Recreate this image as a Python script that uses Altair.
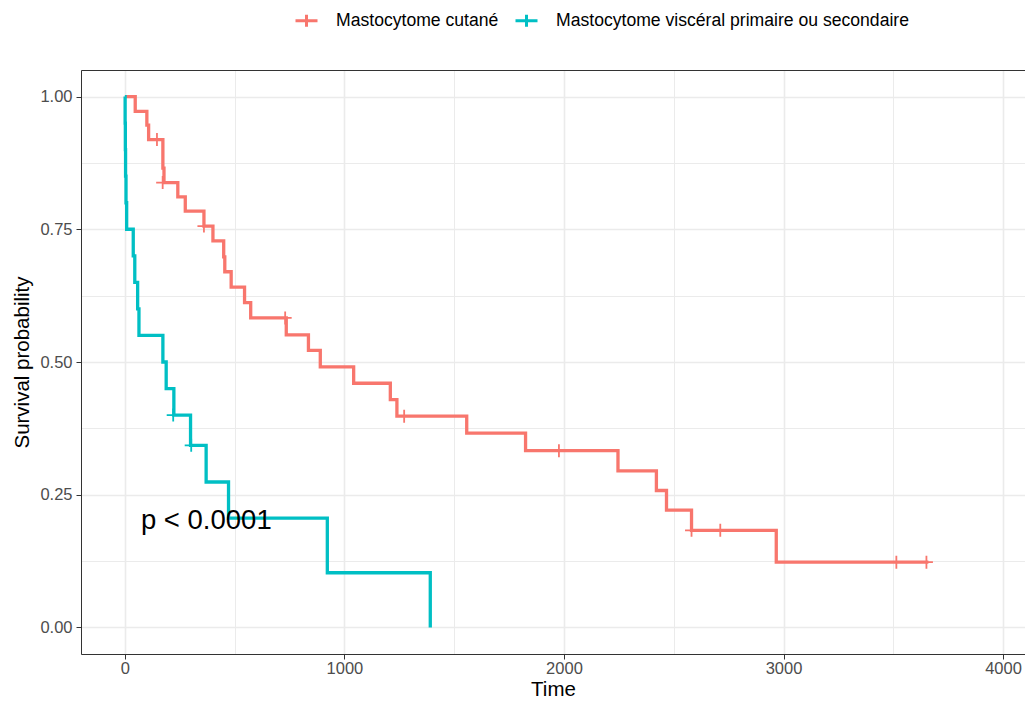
import altair as alt
import pandas as pd

group_a = "Mastocytome cutané"
group_b = "Mastocytome viscéral primaire ou secondaire"

# Kaplan-Meier steps (time, survival)
a_time = [0, 47, 100, 108, 173, 178, 241, 275, 360, 401, 450, 455, 484, 545, 573,
          735, 836, 890, 1042, 1209, 1239, 1557, 1825, 2246, 2421, 2467, 2581, 2967, 3660]
a_surv = [1.0, 0.972, 0.946, 0.919, 0.865, 0.838, 0.811, 0.784, 0.756, 0.728, 0.698, 0.670,
          0.641, 0.612, 0.583, 0.551, 0.522, 0.491, 0.460, 0.429, 0.398, 0.366, 0.333,
          0.295, 0.258, 0.221, 0.183, 0.123, 0.123]
a_cens_time = [146, 172, 360, 730, 1272, 1977, 2581, 2712, 3514, 3651]
a_cens_surv = [0.919, 0.838, 0.756, 0.583, 0.398, 0.333, 0.183, 0.183, 0.123, 0.123]

b_time = [0, 1, 2, 3, 5, 8, 38, 45, 58, 64, 173, 188, 223, 299, 370, 472, 922, 1391]
b_surv = [1.0, 0.95, 0.90, 0.85, 0.80, 0.75, 0.70, 0.65, 0.60, 0.55, 0.50, 0.45, 0.40,
          0.343, 0.274, 0.206, 0.103, 0.0]
b_cens_time = [220, 302]
b_cens_surv = [0.40, 0.343]

p_label = ["p < 0.0001"]
p_time = [73]
p_surv = [0.20]

x_ticks = [0, 1000, 2000, 3000, 4000]
x_minor = [500, 1500, 2500, 3500]
y_ticks = [0, 0.25, 0.5, 0.75, 1.0]
y_minor = [0.125, 0.375, 0.625, 0.875]

colors = ["#F8766D", "#00BFC4"]
FONT = "Liberation Sans"

steps = pd.DataFrame({
    "time": a_time + b_time,
    "surv": a_surv + b_surv,
    "strata": [group_a] * len(a_time) + [group_b] * len(b_time),
})
cens = pd.DataFrame({
    "time": a_cens_time + b_cens_time,
    "surv": a_cens_surv + b_cens_surv,
    "strata": [group_a] * len(a_cens_time) + [group_b] * len(b_cens_time),
})
ptext = pd.DataFrame({"time": p_time, "surv": p_surv, "label": p_label})

xscale = alt.Scale(domain=[-200, 4100], nice=False, zero=False)
yscale = alt.Scale(domain=[-0.05, 1.05], nice=False, zero=False)
cscale = alt.Scale(domain=[group_a, group_b], range=colors)

axis_common = dict(
    grid=True, gridColor="#EBEBEB", gridWidth=1.6,
    domainColor="#333333", domainWidth=1, tickColor="#333333", tickSize=5,
    labelFontSize=16.5, labelColor="#4D4D4D", labelFont=FONT,
    titleFontSize=20.5, titleColor="black", titleFontWeight="normal", titleFont=FONT,
)

lines = alt.Chart(steps).mark_line(interpolate="step-after", strokeWidth=3.3).encode(
    x=alt.X("time:Q", scale=xscale,
            axis=alt.Axis(orient="bottom", values=x_ticks, format="d", title="Time",
                          labelPadding=1, titlePadding=2.5, **axis_common)),
    y=alt.Y("surv:Q", scale=yscale,
            axis=alt.Axis(orient="left", values=y_ticks, format=".2f",
                          title="Survival probability", labelPadding=4, titlePadding=7,
                          **axis_common)),
    color=alt.Color("strata:N", scale=cscale,
                    legend=alt.Legend(title=None, orient="none", direction="horizontal",
                                      legendX=213, legendY=-62,
                                      symbolType="M-1,0H1M0,-0.55V0.55", symbolSize=484,
                                      symbolStrokeWidth=3, labelFontSize=17.6, labelFont=FONT,
                                      labelColor="black", labelOffset=17, labelLimit=0,
                                      columnPadding=10)),
    order="time:Q",
)

minor_axis = dict(grid=True, gridColor="#EBEBEB", gridWidth=1.0, labels=False,
                  ticks=False, title=None)

marks = alt.Chart(cens).mark_point(shape="M-1,0H1M0,-1V1", size=169, strokeWidth=1.8,
                                   filled=False, opacity=1).encode(
    x=alt.X("time:Q", scale=xscale,
            axis=alt.Axis(orient="top", values=x_minor, domain=True, domainColor="#333333",
                          domainWidth=1, **minor_axis)),
    y=alt.Y("surv:Q", scale=yscale,
            axis=alt.Axis(orient="right", values=y_minor, domain=False, **minor_axis)),
    color=alt.Color("strata:N", scale=cscale, legend=None),
)

ptxt = alt.Chart(ptext).mark_text(align="left", baseline="middle", fontSize=27.5,
                                  font=FONT, color="black").encode(
    x=alt.X("time:Q", scale=xscale, axis=None),
    y=alt.Y("surv:Q", scale=yscale, axis=None),
    text="label:N",
)

chart = alt.layer(lines, marks, ptxt).resolve_axis(
    x="independent", y="independent"
).properties(
    width=944, height=584,
    padding={"top": 0, "left": 4, "right": 0, "bottom": -0.5},
    background="white",
).configure_view(stroke=None).configure(font=FONT)

chart.save("out.html", embed_options={"renderer": "svg", "actions": False})
